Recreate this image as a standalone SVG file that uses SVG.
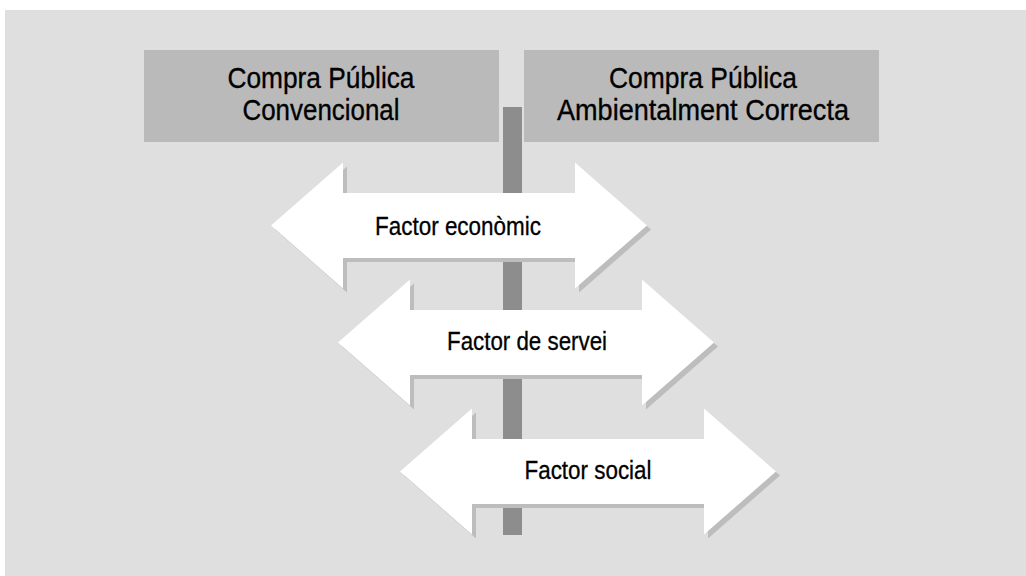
<svg xmlns="http://www.w3.org/2000/svg" xmlns:xlink="http://www.w3.org/1999/xlink" width="1026" height="576" viewBox="0 0 1026 576">
<style>
.hdr{fill:#bababa}
.ht{font-family:"Liberation Sans Narrow","Liberation Sans",Arial,sans-serif;font-size:30px;fill:#000;stroke:#000;stroke-width:0.35;text-anchor:middle}
.at{font-family:"Liberation Sans Narrow","Liberation Sans",Arial,sans-serif;font-size:26px;fill:#000;stroke:#000;stroke-width:0.3;text-anchor:middle}
.shadow{fill:#bdbdbd}
.arrow{fill:#ffffff}
</style>
<defs>
<path id="dbl" d="M0,0 L72,-63 L72,-32.5 L304,-32.5 L304,-63 L376,0 L304,63 L304,32.5 L72,32.5 L72,63 Z"/>
</defs>
<rect x="0" y="0" width="1026" height="576" fill="#ffffff"/>
<rect x="5" y="10" width="1021" height="566" fill="#dfdfdf"/>
<g id="header-conventional">
<rect class="hdr" x="144" y="50" width="355" height="92"/>
<text class="ht" x="321" y="88" textLength="187" lengthAdjust="spacingAndGlyphs">Compra Pública</text>
<text class="ht" x="321" y="120" textLength="157" lengthAdjust="spacingAndGlyphs">Convencional</text>
</g>
<g id="header-green">
<rect class="hdr" x="524" y="50" width="355" height="92"/>
<text class="ht" x="703" y="88" textLength="188" lengthAdjust="spacingAndGlyphs">Compra Pública</text>
<text class="ht" x="703" y="120" textLength="292" lengthAdjust="spacingAndGlyphs">Ambientalment Correcta</text>
</g>
<g id="connectors">
<rect x="503" y="107" width="19" height="428" fill="#8d8d8d"/>
</g>
<g id="factor-economic">
<use xlink:href="#dbl" class="shadow" transform="translate(275,229.5)"/>
<use xlink:href="#dbl" class="arrow" transform="translate(271,225.5)"/>
<text class="at" x="458" y="235" textLength="166" lengthAdjust="spacingAndGlyphs">Factor econòmic</text>
</g>
<g id="factor-servei">
<use xlink:href="#dbl" class="shadow" transform="translate(342,346.5)"/>
<use xlink:href="#dbl" class="arrow" transform="translate(338,342.5)"/>
<text class="at" x="527" y="350" textLength="160" lengthAdjust="spacingAndGlyphs">Factor de servei</text>
</g>
<g id="factor-social">
<use xlink:href="#dbl" class="shadow" transform="translate(404,475.5)"/>
<use xlink:href="#dbl" class="arrow" transform="translate(400,471.5)"/>
<text class="at" x="588" y="479" textLength="127" lengthAdjust="spacingAndGlyphs">Factor social</text>
</g>
</svg>
